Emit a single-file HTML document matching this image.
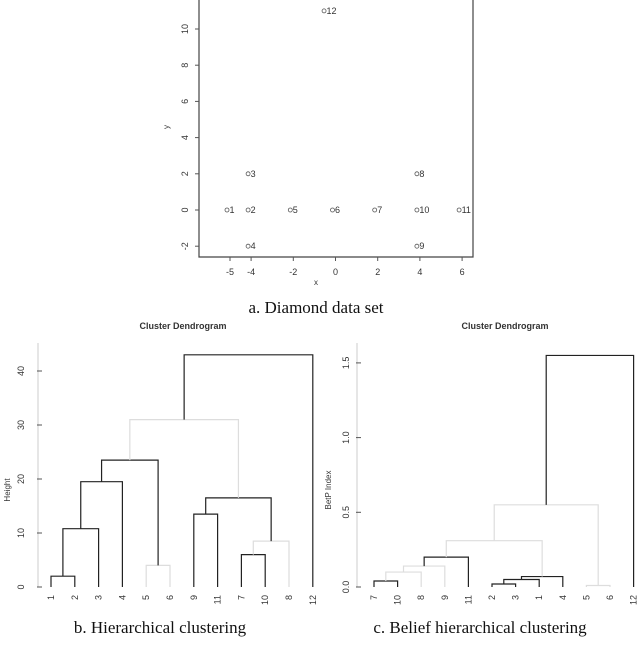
<!DOCTYPE html>
<html><head><meta charset="utf-8"><style>
body{margin:0;background:#fff;width:640px;height:661px;overflow:hidden}
svg{position:absolute;left:0;top:0}
text{font-family:"Liberation Sans",sans-serif;fill:#333}
.cap{font-family:"Liberation Serif",serif;font-size:17px;fill:#111}
</style></head><body>
<svg id="s" width="640" height="661">
<text class="cap" x="316" y="313" text-anchor="middle">a. Diamond data set</text>
<text class="cap" x="160" y="633" text-anchor="middle">b. Hierarchical clustering</text>
<text class="cap" x="480" y="633" text-anchor="middle">c. Belief hierarchical clustering</text>
</svg>
<script>
// ---- scatter data ----
const ptLabels=["1","2","3","4","5","6","7","8","9","10","11","12"];
const ptX=[-5,-4,-4,-4,-2,0,2,4,4,4,6,-0.4];
const ptY=[0,0,2,-2,0,0,0,2,-2,0,0,11];
const xTicks=[-5,-4,-2,0,2,4,6];
const yTicks=[-2,0,2,4,6,8,10];
// ---- dendrogram B ----
const bOrder=[1,2,3,4,5,6,9,11,7,10,8,12];
const bMerge=[[-1,-2],[-3,1],[-4,2],[-5,-6],[3,4],[-9,-11],[-7,-10],[-8,7],[6,8],[5,9],[-12,10]];
const bHeight=[2,10.8,19.5,4,23.5,13.5,6,8.5,16.5,31,43];
const bFaint=[0,0,0,1,0,0,0,1,0,1,0];
const bTicks=[0,10,20,30,40];
// ---- dendrogram C ----
const cOrder=[7,10,8,9,11,2,3,1,4,5,6,12];
const cMerge=[[-7,-10],[-8,1],[-9,2],[-11,3],[-2,-3],[-1,5],[-4,6],[4,7],[-5,-6],[8,9],[10,-12]];
const cHeight=[0.04,0.10,0.14,0.20,0.02,0.05,0.07,0.31,0.01,0.55,1.55];
const cFaint=[0,1,1,0,0,0,0,1,1,1,0];
const cTicks=[0,0.5,1.0,1.5];

const S=document.getElementById('s'),NS="http://www.w3.org/2000/svg";
function mk(t,a,txt){const e=document.createElementNS(NS,t);for(const k in a)e.setAttribute(k,a[k]);if(txt!==undefined)e.textContent=txt;S.appendChild(e);return e;}

// scatter
const sx=v=>335.5+v*21.1, sy=v=>210-v*18.1;
let e=mk('path',{d:"M199,-2 V257 H473 V-2",fill:"none",stroke:"#444","stroke-width":1.2});

xTicks.forEach(t=>{let l=mk('line',{x1:sx(t),x2:sx(t),y1:257,y2:261,stroke:"#555"});
 let tx=mk('text',{x:sx(t),y:275,"font-size":9,"text-anchor":"middle"},String(t));});
yTicks.forEach(t=>{let l=mk('line',{x1:195,x2:199,y1:sy(t),y2:sy(t),stroke:"#555"});
 let tx=mk('text',{x:0,y:0,"font-size":9,"text-anchor":"middle",transform:`translate(188,${sy(t)}) rotate(-90)`},String(t));});
e=mk('text',{x:316,y:285,"font-size":8,"text-anchor":"middle"},"x");
e=mk('text',{x:0,y:0,"font-size":8,"text-anchor":"middle",transform:"translate(169,127) rotate(-90)"},"y");
ptX.forEach((v,i)=>{let c=mk('circle',{cx:sx(v)-3,cy:sy(ptY[i]),r:2,fill:"none",stroke:"#555","stroke-width":0.8});
 let t=mk('text',{x:sx(v)-0.5,y:sy(ptY[i])+3,"font-size":9},ptLabels[i]);});

// dendrogram
function dendro(ord,merge,hts,faint,ticks,o){
 const lx=i=>o.x0+i*o.dx, y=v=>o.y0-v*o.k;
 let t=mk('text',{x:o.tx,y:329,"font-size":9,"font-weight":"bold","text-anchor":"middle"},"Cluster Dendrogram");
 let ax=mk('line',{x1:o.ax,x2:o.ax,y1:y(ticks[0]),y2:343,stroke:"#ccc"});
 ticks.forEach(v=>{let l=mk('line',{x1:o.ax-1,x2:o.ax+4,y1:y(v),y2:y(v),stroke:"#555"});
  let tx=mk('text',{x:0,y:0,"font-size":9,"text-anchor":"middle",transform:`translate(${o.ax-o.lo},${y(v)}) rotate(-90)`},o.fmt(v));});
 let yt=mk('text',{x:0,y:0,"font-size":8,"text-anchor":"middle",transform:`translate(${o.yt},490) rotate(-90)`},o.ylab);
 ord.forEach((n,i)=>{let tx=mk('text',{x:0,y:0,"font-size":9,"text-anchor":"end",transform:`translate(${lx(i)+3},${o.y0+8}) rotate(-90)`},String(n));});
 const pos={};
 const node=r=>r<0?[lx(ord.indexOf(-r)),0]:[pos[r],hts[r-1]];
 merge.forEach((m,i)=>{const a=node(m[0]),b=node(m[1]),h=hts[i];
  pos[i+1]=(a[0]+b[0])/2;
  let p=mk('path',{d:`M${a[0]},${y(a[1])} V${y(h)} H${b[0]} V${y(b[1])}`,fill:"none",stroke:faint[i]?"#ddd":"#222","stroke-width":1.2});
  });
}
dendro(bOrder,bMerge,bHeight,bFaint,bTicks,{x0:51,dx:23.8,y0:587,k:5.4,ax:38,lo:14,tx:183,yt:10,ylab:"Height",fmt:v=>String(v)});
dendro(cOrder,cMerge,cHeight,cFaint,cTicks,{x0:374,dx:23.6,y0:587,k:149.4,ax:357,lo:8,tx:505,yt:331,ylab:"BetP Index",fmt:v=>v.toFixed(1)});
</script>
</body></html>
